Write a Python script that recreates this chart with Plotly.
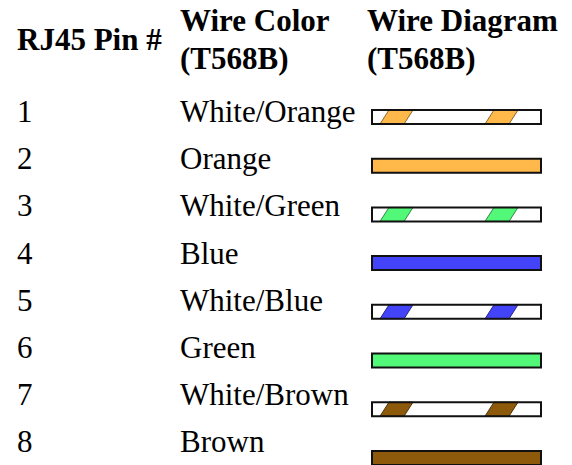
import plotly.graph_objects as go

# ---- data ----
pins = ["1", "2", "3", "4", "5", "6", "7", "8"]
wire_names = ["White/Orange", "Orange", "White/Green", "Blue",
              "White/Blue", "Green", "White/Brown", "Brown"]
wire_colors = ["#FFB84A", "#FFB84A", "#52F878", "#4343F8",
               "#4343F8", "#52F878", "#8C5A0A", "#8C5A0A"]
striped = [True, False, True, False, True, False, True, False]
header_col1 = ["RJ45 Pin #"]
header_col2 = ["Wire Color", "(T568B)"]
header_col3 = ["Wire Diagram", "(T568B)"]

# ---- layout constants (pixel-like coordinate system) ----
W, H = 572, 465
FONT = "Liberation Serif, Times New Roman, serif"
FS = 31
col_x = [16, 179, 366]
text_y0, text_step = 111.5, 47.2
bar_y0, bar_step = 110, 48.7
bar_h = 14
bar_x0, bar_x1 = 372, 541
stripe_offsets = [8, 113]   # bottom-left of stripes relative to bar_x0
stripe_w = 24
stripe_slant = 9


def darker(hexc, f=0.55):
    h = hexc.lstrip("#")
    r, g, b = (int(h[i:i + 2], 16) for i in (0, 2, 4))
    return "rgb(%d,%d,%d)" % (r * f, g * f, b * f)


fig = go.Figure()
fig.add_trace(go.Scatter(x=[0, W], y=[0, H], mode="markers",
                         marker=dict(opacity=0), hoverinfo="skip",
                         showlegend=False))

ann = []
# headers
ann.append(dict(x=col_x[0], y=39, text="<b>%s</b>" % header_col1[0]))
for j, t in enumerate(header_col2):
    ann.append(dict(x=col_x[1], y=20 + 38 * j, text="<b>%s</b>" % t))
for j, t in enumerate(header_col3):
    ann.append(dict(x=col_x[2], y=20 + 38 * j, text="<b>%s</b>" % t))

shapes = []
for i, (p, nm, c, s) in enumerate(zip(pins, wire_names, wire_colors, striped)):
    ty = text_y0 + text_step * i
    ann.append(dict(x=col_x[0], y=ty, text=p))
    ann.append(dict(x=col_x[1], y=ty, text=nm))
    top = bar_y0 + bar_step * i
    bot = top + bar_h
    shapes.append(dict(type="rect", x0=bar_x0, x1=bar_x1, y0=top, y1=bot,
                       fillcolor="white" if s else c,
                       line=dict(color="black", width=0), layer="above"))
    if s:
        for off in stripe_offsets:
            bl = bar_x0 + off
            path = "M %f %f L %f %f L %f %f L %f %f Z" % (
                bl, bot, bl + stripe_w, bot,
                bl + stripe_w + stripe_slant, top, bl + stripe_slant, top)
            shapes.append(dict(type="path", path=path, fillcolor=c,
                               line=dict(color=darker(c), width=1),
                               layer="above"))
    shapes.append(dict(type="rect", x0=bar_x0, x1=bar_x1, y0=top, y1=bot,
                       fillcolor="rgba(0,0,0,0)",
                       line=dict(color="#111111", width=2), layer="above"))

for a in ann:
    a.update(xref="x", yref="y", xanchor="left", yanchor="middle",
             showarrow=False, font=dict(family=FONT, size=FS, color="black"),
             borderpad=0)

fig.update_layout(
    width=W, height=H, margin=dict(l=0, r=0, t=0, b=0),
    paper_bgcolor="white", plot_bgcolor="white",
    xaxis=dict(range=[0, W], visible=False, fixedrange=True),
    yaxis=dict(range=[H, 0], visible=False, fixedrange=True),
    annotations=ann, shapes=shapes, showlegend=False,
)
fig.write_html("out.html", config={"displayModeBar": False},
               post_script="document.body.style.margin='0';"
                           "document.body.style.overflow='hidden';")
